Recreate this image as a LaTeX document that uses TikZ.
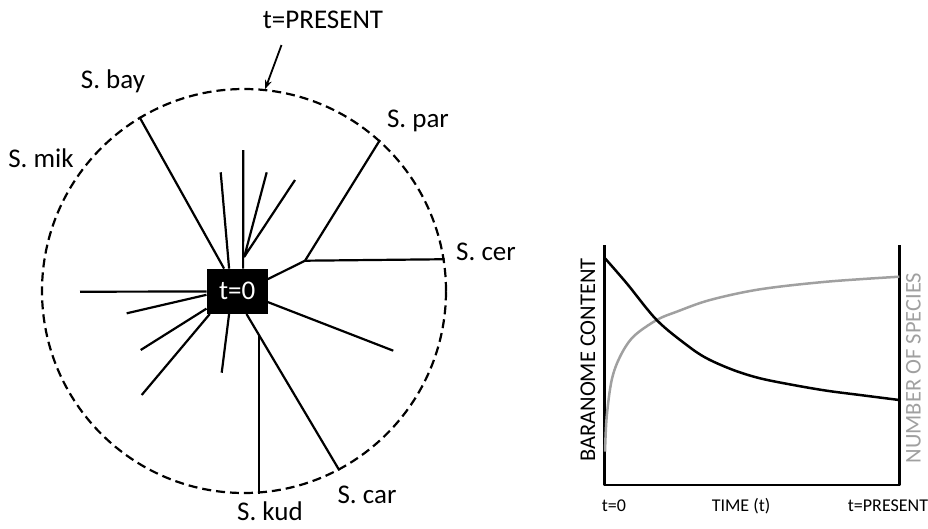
\documentclass[tikz,border=0pt]{standalone}
\usepackage{fontspec}
\setmainfont{Carlito}
\usetikzlibrary{calc,arrows.meta}
\definecolor{curvegray}{RGB}{160,160,160}
\begin{document}
\begin{tikzpicture}[x=1pt,y=-1pt,line join=round,
  branch/.style={line width=2.2pt},
  ringstyle/.style={circle,draw,line width=2.2pt,dash pattern=on 9pt off 5pt,minimum size=404pt,inner sep=0pt},
  rootbox/.style={fill=black,text=white,minimum width=61pt,minimum height=45pt,inner sep=0pt,font=\fontsize{27}{30}\selectfont},
  lbl/.style={inner sep=0pt,font=\fontsize{27}{30}\selectfont},
  glbl/.style={inner sep=0pt,font=\fontsize{18}{22}\selectfont},
  axlbl/.style={inner sep=0pt,font=\fontsize{22.5}{26}\selectfont,rotate=90},
  axis/.style={line width=2.5pt},
  curve/.style={line width=2.5pt},
  pointer/.style={line width=1.8pt,-{Stealth[length=9pt,width=7pt]}}]
\useasboundingbox (0,0) rectangle (928,528);

% ring and root
\node[ringstyle] (ring) at (244,291) {};
\node[rootbox] (t0) at (237.2,291.3) {t=0};

% free end points
\coordinate (e2) at (220.7,172.3);
\coordinate (e3) at (243.3,150);
\coordinate (e4) at (266.7,172.3);
\coordinate (e5) at (295,180);
\coordinate (j) at (244.3,256.7);
\coordinate (p) at (305,260.7);
\coordinate (e6) at (80,291.7);
\coordinate (e7) at (126.7,313.3);
\coordinate (e8) at (140.7,350);
\coordinate (e9) at (141.7,395);
\coordinate (e10) at (221.7,372.7);
\coordinate (e13) at (393.3,350.7);

% branches
\draw[branch] ($(t0.north west)+(17.6,0)$) -- (ring.121);
\draw[branch] ($(t0.north west)+(22.6,0)$) -- (e2);
\draw[branch] ($(t0.north west)+(36.6,0)$) -- (e3);
\draw[branch] (e4) -- (j) -- (e5);
\draw[branch] ($(t0.north east)+(0,10.5)$) -- (p) -- (ring.48);
\draw[branch] (p) -- (ring.9);
\draw[branch] ($(t0.north west)+(0,22.9)$) -- (e6);
\draw[branch] ($(t0.north west)+(0,26.2)$) -- (e7);
\draw[branch] ($(t0.north west)+(0,40)$) -- (e8);
\draw[branch] ($(t0.south west)+(3.3,0)$) -- (e9);
\draw[branch] ($(t0.south west)+(22.6,0)$) -- (e10);
\coordinate (c0) at ($(t0.south west)+(40,0)$);
\draw[branch] (c0) -- (ring.298);
\coordinate (ks) at ($(c0)!0.135!(ring.298)$);
\draw[branch] (ks) -- (ks |- ring.south);
\draw[branch] ($(t0.north east)+(0,33.5)$) -- (e13);

% labels
\node[lbl] (tp) at (323,20) {t=PRESENT};
\coordinate (tps) at (281.5,45);
\draw[pointer] (tps) -- (ring.84);
\node[lbl] (sbay) at (113,81) {S. bay};
\node[lbl] (smik) at (41,158) {S. mik};
\node[lbl] (spar) at (418,121) {S. par};
\node[lbl] (scer) at (486,252) {S. cer};
\node[lbl] (skud) at (270,511) {S. kud};
\node[lbl] (scar) at (367,495) {S. car};

% graph
\coordinate (atl) at (604.3,245);
\coordinate (abl) at (604.3,485);
\coordinate (abr) at (899.3,485);
\coordinate (atr) at (899.3,245);
\draw[axis] (atl) -- (abl) -- (abr) -- (atr);
\draw[curve,curvegray] plot[smooth,tension=0.55] coordinates {(605,451.7) (606.7,416.7) (611.7,380) (620,356.7) (633.3,336.7) (656.7,320) (676.7,311.7) (710,300) (760,289.3) (826.7,281.7) (899.3,276.7)};
\draw[curve] plot[smooth,tension=0.55] coordinates {(605,258.3) (626.7,283.3) (656.7,320) (686.7,345) (706.7,358.3) (733.3,370) (760,378.3) (793.3,385) (826.7,390.7) (860,395) (899.3,400)};
\node[axlbl] (ylab) at (588,360) {BARANOME CONTENT};
\node[axlbl,text=curvegray] (y2lab) at (913.5,368) {NUMBER OF SPECIES};
\node[glbl] (gt0) at (614,506) {t=0};
\node[glbl] (gtime) at (741,506) {TIME (t)};
\node[glbl] (gtp) at (888,506) {t=PRESENT};
\end{tikzpicture}
\end{document}
